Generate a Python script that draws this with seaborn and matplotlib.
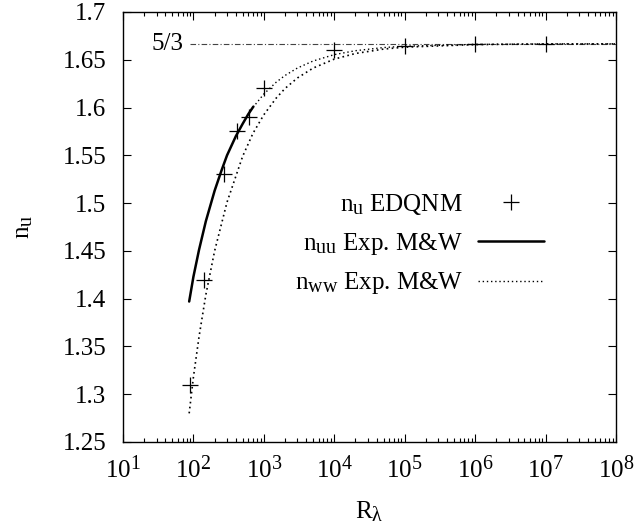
import matplotlib
matplotlib.use("Agg")
import matplotlib.pyplot as plt
import matplotlib._mathtext as mathtext_internals
from matplotlib.lines import Line2D
from matplotlib.ticker import LogLocator, NullFormatter
import seaborn as sns

# Larger sub/superscripts, closer to the typeset look of the labels
mathtext_internals.SHRINK_FACTOR = 0.8

# EDQNM exponent values
edqnm_R = [88, 143, 271, 420, 615, 1000, 1e4, 1e5, 1e6, 1e7]
edqnm_n = [1.31, 1.42, 1.53, 1.575, 1.59, 1.62, 1.66, 1.664, 1.6665, 1.6667]

# Experimental fit n_uu (Mydlarski & Warhaft): measured range and extension
uu_R = [87, 100, 120, 150, 200, 250, 300, 400, 500, 600, 710]
uu_n = [1.397, 1.423, 1.451, 1.481, 1.513, 1.534, 1.550, 1.570, 1.583, 1.593, 1.601]
uu_ext_R = [700, 1000, 1500, 2000, 3000, 5000, 1e4, 2e4, 5e4, 1e5, 1e6, 1e7, 1e8]
uu_ext_n = [1.6001, 1.6142, 1.6266, 1.6336, 1.6414, 1.6487, 1.6554, 1.6595,
            1.6628, 1.6642, 1.6661, 1.6666, 1.6667]

# Experimental fit n_ww (Mydlarski & Warhaft)
ww_R = [87, 100, 120, 150, 200, 300, 500, 700, 1000, 1500, 2000, 3000, 5000,
        1e4, 2e4, 5e4, 1e5, 1e6, 1e7, 1e8]
ww_n = [1.280, 1.318, 1.360, 1.404, 1.450, 1.501, 1.549, 1.573, 1.5925, 1.610,
        1.620, 1.631, 1.6413, 1.6507, 1.6566, 1.6612, 1.6632, 1.6659, 1.6665, 1.6666]

# Kolmogorov limit
limit_R = [90, 1e8]
limit_n = [5 / 3, 5 / 3]

x_ticks = [10 ** k for k in range(1, 9)]
y_ticks = [1.25, 1.3, 1.35, 1.4, 1.45, 1.5, 1.55, 1.6, 1.65, 1.7]

sns.set_theme(style="ticks")
plt.rcParams["font.family"] = ["Liberation Serif", "DejaVu Serif"]
plt.rcParams["mathtext.fontset"] = "custom"
plt.rcParams["mathtext.rm"] = "Liberation Serif"
plt.rcParams["mathtext.it"] = "Liberation Serif:italic"
for key in ["text.color", "axes.labelcolor", "xtick.color", "ytick.color", "axes.edgecolor"]:
    plt.rcParams[key] = "black"

fig = plt.figure(figsize=(6.36, 5.27), dpi=100)
ax = fig.add_axes([123 / 636, 1 - 442 / 527, (616 - 123) / 636, (442 - 12) / 527])

fs = 18
dotted = (0, (1, 2))

sns.lineplot(x=limit_R, y=limit_n, ax=ax, color="#444444", lw=0.8)
ax.lines[-1].set_linestyle((0, (5, 2, 1, 2)))

sns.lineplot(x=uu_ext_R, y=uu_ext_n, ax=ax, color="black", lw=1.0, sort=False)
ax.lines[-1].set_linestyle(dotted)
sns.lineplot(x=ww_R, y=ww_n, ax=ax, color="black", lw=1.2, sort=False)
ax.lines[-1].set_linestyle(dotted)
sns.lineplot(x=uu_R, y=uu_n, ax=ax, color="black", lw=1.8, sort=False)

sns.scatterplot(x=edqnm_R, y=edqnm_n, ax=ax, marker="+", s=130,
                color="black", linewidth=0.9, zorder=5)

ax.text(72, 5 / 3, "5/3", ha="right", va="center", fontsize=fs)

ax.set_xscale("log")
ax.set_xlim(10, 1e8)
ax.set_ylim(1.25, 1.7)
ax.set_xticks(x_ticks)
ax.xaxis.set_minor_locator(LogLocator(base=10, subs=range(2, 10), numticks=20))
ax.xaxis.set_minor_formatter(NullFormatter())
ax.set_yticks(y_ticks)
ax.set_yticklabels([f"{v:g}" for v in y_ticks])

ax.tick_params(which="both", direction="in", top=True, right=True,
               labelsize=fs, color="black", width=0.8)
ax.tick_params(axis="y", pad=12)
ax.tick_params(axis="x", pad=10)
ax.tick_params(which="major", length=6)
ax.tick_params(which="minor", length=3)
for s in ax.spines.values():
    s.set_linewidth(1.0)

ax.set_xlabel(r"R$_\mathrm{\lambda}$", fontsize=fs, labelpad=12)
ax.set_ylabel(r"n$_\mathrm{u}$", fontsize=fs, labelpad=20)

handles = [
    Line2D([], [], color="black", marker="+", markersize=12, mew=0.9, linestyle="none"),
    Line2D([], [], color="black", lw=1.8),
    Line2D([], [], color="black", lw=1.0, linestyle=dotted),
]
labels = [r"n$_\mathrm{u}$ EDQNM", r"n$_\mathrm{uu}$ Exp. M&W", r"n$_\mathrm{ww}$ Exp. M&W"]
fig.legend(handles, labels, loc="upper right", bbox_to_anchor=(544 / 636, 1 - 192 / 527),
           frameon=False, markerfirst=False, fontsize=fs, handlelength=2.64,
           handletextpad=0.6, labelspacing=0.55, borderpad=0, borderaxespad=0)

fig.savefig("out.png", dpi=100)
